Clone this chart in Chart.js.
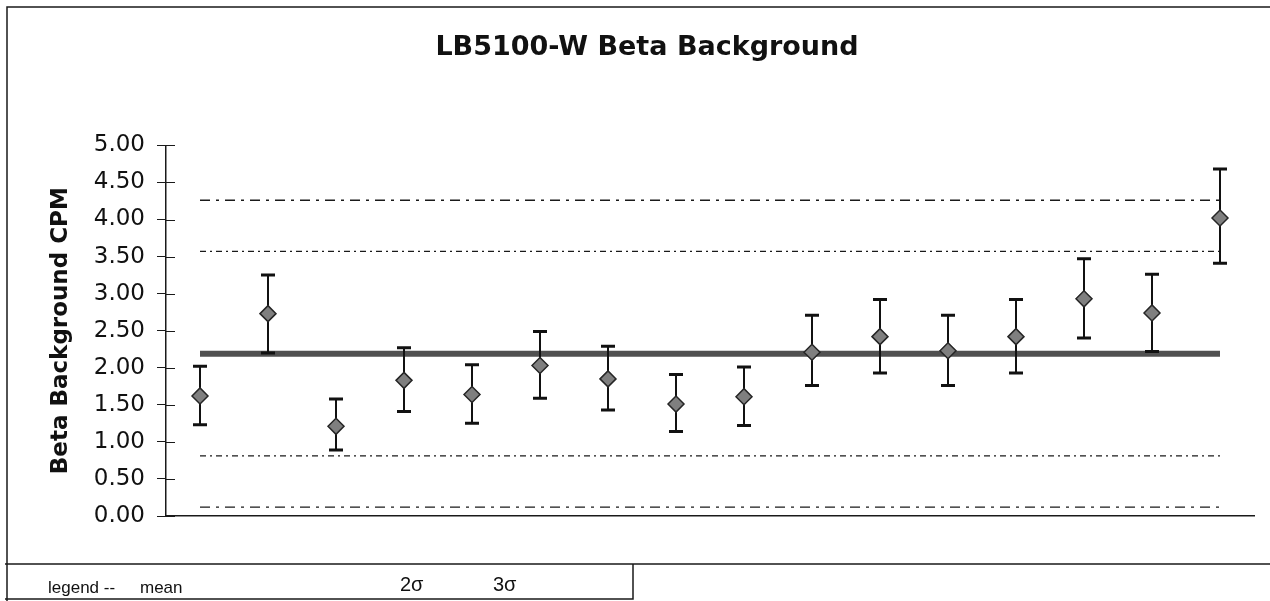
<!DOCTYPE html>
<html>
<head>
<meta charset="utf-8">
<script src="https://cdn.jsdelivr.net/npm/chart.js@4"></script>
<style>
  html, body { margin: 0; padding: 0; background: #fff; }
  #wrap { position: relative; width: 1270px; height: 601px; overflow: hidden; }
  #bgChart { position: absolute; left: 0; top: 0; }
  .legend-row { position: absolute; top: 578px; font: 17px "Liberation Sans", Arial, sans-serif; color: #111; }
  .sigma { top: 573px; font-size: 20px; }
</style>
</head>
<body>
<div id="wrap">
  <canvas id="bgChart" width="1270" height="601"></canvas>
  <div class="legend-row" style="left:48px">legend --</div>
  <div class="legend-row" style="left:140px">mean</div>
  <div class="legend-row sigma" style="left:400px">2σ</div>
  <div class="legend-row sigma" style="left:493px">3σ</div>
</div>
<script>
// counts, one per measurement
const categories = ["1", "2", "3", "4", "5", "6", "7", "8", "9", "10", "11", "12", "13", "14", "15", "16"];
const cpm = [1.62, 2.73, 1.21, 1.83, 1.64, 2.03, 1.85, 1.51, 1.61, 2.21, 2.42, 2.23, 2.42, 2.93, 2.74, 4.02];
const errHigh = [2.02, 3.25, 1.58, 2.27, 2.04, 2.49, 2.29, 1.91, 2.01, 2.71, 2.92, 2.71, 2.92, 3.47, 3.26, 4.68];
const errLow = [1.23, 2.20, 0.89, 1.41, 1.25, 1.59, 1.43, 1.14, 1.22, 1.76, 1.93, 1.76, 1.93, 2.40, 2.22, 3.41];

// control limits
const meanValue = 2.19;
const upper2s = 3.57;
const lower2s = 0.81;
const upper3s = 4.26;
const lower3s = 0.12;

const yTicks = [0, 0.5, 1, 1.5, 2, 2.5, 3, 3.5, 4, 4.5, 5];

const FONT = '"DejaVu Sans", "Liberation Sans", Arial, sans-serif';

function flatLine(v) {
  return categories.map(() => v);
}

function limitLine(v, dash) {
  return {
    type: "line",
    data: flatLine(v),
    borderColor: "#1a1a1a",
    borderWidth: 1.3,
    borderDash: dash,
    pointRadius: 0,
    fill: false,
    order: 3,
  };
}

// draws error bars just before the points so they sit over the limit lines
const errorBars = {
  id: "errorBars",
  beforeDatasetDraw(chart, args) {
    if (args.index !== 0) return;
    const ctx = chart.ctx;
    const x = chart.scales.x;
    const y = chart.scales.y;
    ctx.save();
    ctx.strokeStyle = "#111";
    for (let i = 0; i < cpm.length; i++) {
      const px = x.getPixelForValue(i);
      const top = y.getPixelForValue(errHigh[i]);
      const bot = y.getPixelForValue(errLow[i]);
      ctx.lineWidth = 2;
      ctx.beginPath();
      ctx.moveTo(px, top);
      ctx.lineTo(px, bot);
      ctx.stroke();
      ctx.lineWidth = 3;
      ctx.beginPath();
      ctx.moveTo(px - 7, top);
      ctx.lineTo(px + 7, top);
      ctx.moveTo(px - 7, bot);
      ctx.lineTo(px + 7, bot);
      ctx.stroke();
    }
    ctx.restore();
  },
};

// page frame, inner tick marks and the legend strip
const frame = {
  id: "frame",
  afterDraw(chart) {
    const ctx = chart.ctx;
    const y = chart.scales.y;
    const left = chart.chartArea.left;
    ctx.save();
    ctx.strokeStyle = "#1a1a1a";
    ctx.lineWidth = 1.5;
    ctx.beginPath();
    ctx.moveTo(7, 601);
    ctx.lineTo(7, 7);
    ctx.lineTo(1270, 7);
    ctx.moveTo(5, 564);
    ctx.lineTo(1270, 564);
    ctx.moveTo(5, 599);
    ctx.lineTo(633, 599);
    ctx.lineTo(633, 564);
    ctx.stroke();
    ctx.lineWidth = 1;
    ctx.beginPath();
    yTicks.forEach((t) => {
      const py = Math.round(y.getPixelForValue(t)) + 0.5;
      ctx.moveTo(left, py);
      ctx.lineTo(left + 9, py);
    });
    ctx.stroke();
    ctx.restore();
  },
};

new Chart(document.getElementById("bgChart"), {
  data: {
    labels: categories,
    datasets: [
      {
        type: "line",
        data: cpm,
        showLine: false,
        pointStyle: "rectRot",
        pointRadius: 8,
        pointBackgroundColor: "#7f7f7f",
        pointBorderColor: "#262626",
        pointBorderWidth: 1.5,
        order: 0,
      },
      {
        type: "line",
        data: flatLine(meanValue),
        borderColor: "#505050",
        borderWidth: 6,
        pointRadius: 0,
        fill: false,
        order: 2,
      },
      limitLine(upper3s, [10, 6, 3, 6]),
      limitLine(upper2s, [6, 4, 2, 4]),
      limitLine(lower2s, [6, 4, 2, 4]),
      limitLine(lower3s, [10, 6, 3, 6]),
    ],
  },
  options: {
    responsive: false,
    animation: false,
    events: [],
    layout: { padding: { left: 40, right: 16, top: 0, bottom: 85 } },
    plugins: {
      legend: { display: false },
      tooltip: { enabled: false },
      title: {
        display: true,
        text: "LB5100-W Beta Background",
        color: "#111",
        font: { family: FONT, size: 27, weight: "bold", lineHeight: 1.2 },
        padding: { top: 32, bottom: 81 },
      },
    },
    scales: {
      x: {
        type: "category",
        offset: true,
        ticks: { display: false },
        grid: { display: false },
        border: { display: true, color: "#1a1a1a", width: 1.5 },
        afterFit(scale) {
          scale.height = 0;
        },
      },
      y: {
        min: 0,
        max: 5,
        afterBuildTicks(scale) {
          scale.ticks = yTicks.map((v) => ({ value: v }));
        },
        afterFit(scale) {
          scale.width = 126;
        },
        ticks: {
          color: "#111",
          padding: 12,
          font: { family: FONT, size: 23 },
          callback: (v) => Number(v).toFixed(2),
        },
        grid: {
          drawOnChartArea: false,
          drawTicks: true,
          tickLength: 9,
          color: "#1a1a1a",
        },
        border: { display: true, color: "#1a1a1a", width: 1.5 },
        title: {
          display: true,
          text: "Beta Background CPM",
          color: "#111",
          font: { family: FONT, size: 23, weight: "bold", lineHeight: 1.2 },
          padding: { top: 7, bottom: 0 },
        },
      },
    },
  },
  plugins: [errorBars, frame],
});
</script>
</body>
</html>
